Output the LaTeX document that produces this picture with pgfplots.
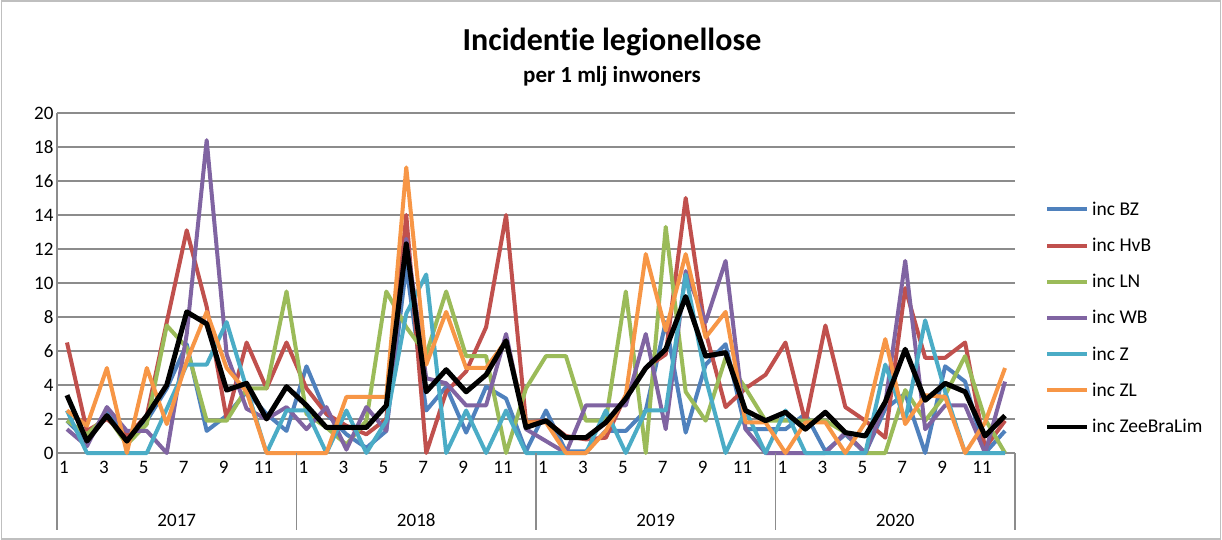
\documentclass[border=0pt]{standalone}
\usepackage{fontspec}
\setmainfont{Carlito}[Ligatures=NoCommon]
\usepackage{pgfplots}
\usepackage{pgfplotstable}
\usetikzlibrary{calc}
\pgfplotsset{compat=1.18}
\definecolor{cBZ}{HTML}{4F81BD}
\definecolor{cHvB}{HTML}{C0504D}
\definecolor{cLN}{HTML}{9BBB59}
\definecolor{cWB}{HTML}{8064A2}
\definecolor{cZ}{HTML}{4BACC6}
\definecolor{cZL}{HTML}{F79646}
\definecolor{gridc}{HTML}{8C8C8C}
\pgfplotstableread{
m BZ HvB LN WB Z ZL ZBL
1 1.9 6.5 1.9 1.4 2.5 2.5 3.4
2 0.7 1.3 1.1 0.4 0 1.6 0.7
3 2.5 2.0 2.2 2.7 0 5.0 2.2
4 1.1 1.0 0.5 1.3 0 0 0.7
5 1.9 2.2 1.7 1.3 0 5.0 2.2
6 3.8 7.7 7.5 0 2.6 1.7 4.0
7 6.4 13.1 6.2 7.0 5.2 5.4 8.3
8 1.3 8.6 1.9 18.4 5.2 8.3 7.6
9 2.2 2.0 1.9 5.8 7.7 5.0 3.7
10 3.6 6.5 3.8 2.6 3.8 3.6 4.1
11 2.3 3.8 3.8 2.0 0 0 2.0
12 1.3 6.5 9.5 2.7 2.5 0 3.9
13 5.1 3.8 2.3 1.4 2.5 0 2.8
14 2.3 2.3 1.5 2.7 0 0 1.5
15 1.1 1.6 0.5 0.2 2.5 3.3 1.5
16 0.3 1.1 1.9 2.7 0 3.3 1.5
17 1.3 2.0 9.5 1.3 1.9 3.3 2.8
18 11.0 14.0 7.4 12.6 8.2 16.8 12.3
19 2.5 0 5.8 4.4 10.5 5.2 3.6
20 3.9 3.6 9.5 4.1 0 8.3 4.9
21 1.2 4.8 5.7 2.8 2.5 5.0 3.6
22 3.9 7.4 5.7 2.8 0 5.0 4.6
23 3.2 14.0 0 7.0 2.5 6.6 6.6
24 0.1 1.8 3.8 1.4 0 1.8 1.5
25 2.5 1.9 5.7 0.7 0 1.8 1.9
26 0.1 1.0 5.7 0 0 0 0.9
27 0.1 0.8 1.9 2.8 0 0 0.9
28 1.3 0.9 1.9 2.8 2.5 1.3 1.8
29 1.3 3.4 9.5 2.8 0 3.4 3.2
30 2.5 5.0 0 7.0 2.5 11.7 5.0
31 7.7 5.8 13.3 1.4 2.5 7.2 6.1
32 1.2 15.0 3.6 10.7 10.5 11.7 9.2
33 5.2 7.1 1.9 7.7 4.4 6.8 5.7
34 6.4 2.7 5.6 11.3 0 8.3 5.9
35 1.4 3.8 3.8 1.4 2.5 1.8 2.5
36 1.4 4.6 1.9 0 0 1.8 1.9
37 1.4 6.5 1.9 0 2.5 0 2.4
38 2.3 1.8 1.9 0 0 1.8 1.4
39 0.1 7.5 1.9 0 0 1.8 2.4
40 1.1 2.7 1.2 1.2 0 0 1.2
41 0 1.9 0 0 0 1.8 1.0
42 2.6 0.9 0 2.9 5.2 6.7 3.0
43 3.5 9.7 3.7 11.3 1.9 1.7 6.1
44 0 5.6 1.9 1.4 7.8 3.4 3.1
45 5.1 5.6 3.4 2.8 3.6 3.3 4.1
46 4.2 6.5 5.7 2.8 0 0 3.6
47 0 0.3 2.0 0 0 1.8 1.0
48 1.3 1.9 0 4.2 0 5.0 2.2
}\datatable
\begin{document}
\begin{tikzpicture}[x=1pt,y=1pt]
\begin{axis}[
  scale only axis, width=958pt, height=340pt,
  xmin=0.5, xmax=48.5, ymin=0, ymax=20,
  ytick={0,2,...,20},
  xtick={1,3,...,47},
  xticklabels={1,3,5,7,9,11,1,3,5,7,9,11,1,3,5,7,9,11,1,3,5,7,9,11},
  ymajorgrids,
  grid style={gridc, line width=1.3pt},
  axis x line*=bottom, axis y line*=left,
  axis line style={gridc, line width=1.3pt},
  tick style={draw=none},
  ticklabel style={font=\fontsize{19}{22}\selectfont},
  xticklabel style={xshift=-3pt, yshift=-5pt},
  /pgf/number format/assume math mode=true,
  clip=false,
  legend cell align=left,
  legend style={draw=none, fill=none, font=\fontsize{19.5}{22}\selectfont,
    at={(1.0313,0.742)}, anchor=north west, inner sep=0pt,
    row sep=19.3pt, column sep=2pt,
    nodes={inner sep=1pt}},
  legend image code/.code={\draw[#1, line width=4pt] (0pt,0pt) -- (40pt,0pt);},
  every axis plot/.append style={line width=4pt, line join=round},
]
\addplot[cBZ] table[x=m,y=BZ] {\datatable};
\addlegendentry{inc BZ}
\addplot[cHvB] table[x=m,y=HvB] {\datatable};
\addlegendentry{inc HvB}
\addplot[cLN] table[x=m,y=LN] {\datatable};
\addlegendentry{inc LN}
\addplot[cWB] table[x=m,y=WB] {\datatable};
\addlegendentry{inc WB}
\addplot[cZ] table[x=m,y=Z] {\datatable};
\addlegendentry{inc Z}
\addplot[cZL] table[x=m,y=ZL] {\datatable};
\addlegendentry{inc ZL}
\addplot[black, line width=5pt] table[x=m,y=ZBL] {\datatable};
\addlegendentry{inc ZeeBraLim}
\foreach \s in {0.5,12.5,24.5,36.5,48.5} {
  \edef\temp{\noexpand\draw[gridc, line width=1.3pt] (axis cs:\s,0) -- ++(0pt,-77pt);}
  \temp
}
\node[font=\fontsize{19}{22}\selectfont] at ([yshift=-67pt]axis cs:6.5,0) {2017};
\node[font=\fontsize{19}{22}\selectfont] at ([yshift=-67pt]axis cs:18.5,0) {2018};
\node[font=\fontsize{19}{22}\selectfont] at ([yshift=-67pt]axis cs:30.5,0) {2019};
\node[font=\fontsize{19}{22}\selectfont] at ([yshift=-67pt]axis cs:42.5,0) {2020};
\coordinate (O) at (rel axis cs:0,0);
\end{axis}
\pgfresetboundingbox
\path[use as bounding box] ($(O)+(-57,-87)$) rectangle ($(O)+(1165,453)$);
\draw[gray!50, line width=1.2pt] ($(O)+(-55.5,-86)$) rectangle ($(O)+(1163.5,452)$);
\node[font=\fontsize{32}{36}\selectfont\bfseries] at ($(O)+(555,411)$) {Incidentie legionellose};
\node[font=\fontsize{23}{26}\selectfont\bfseries] at ($(O)+(555,377)$) {per 1 mlj inwoners};
\end{tikzpicture}
\end{document}
